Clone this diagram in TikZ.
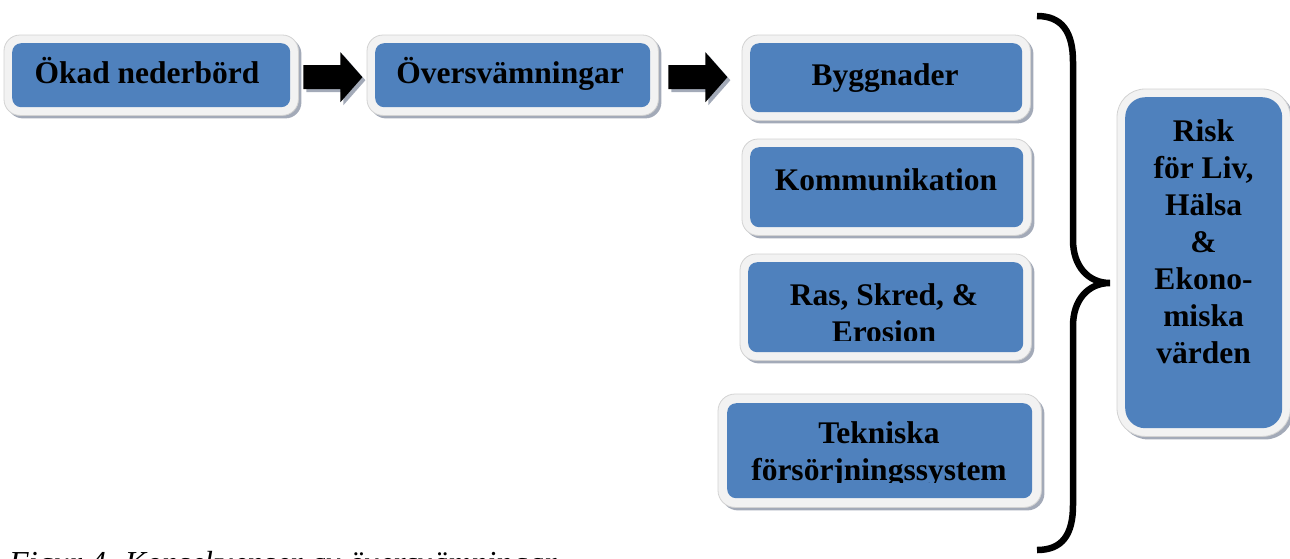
\documentclass[tikz,border=0pt]{standalone}
\usepackage{fontspec}
\setmainfont{Liberation Serif}
\usetikzlibrary{backgrounds,calc}
\definecolor{boxblue}{HTML}{4F81BD}
\definecolor{framefill}{HTML}{F2F2F2}
\definecolor{framedraw}{HTML}{D2D2D2}
\definecolor{shadowcol}{HTML}{A3AAB8}
\newcommand\myboxrim[3]{%
  \fill[shadowcol, rounded corners=#2] ([shift={(-#3+3,-#3+3)}]#1.north west) rectangle ([shift={(#3+3,#3+3)}]#1.south east);
  \filldraw[fill=framefill, draw=framedraw, line width=0.8pt, rounded corners=#2] ([shift={(-#3,-#3)}]#1.north west) rectangle ([shift={(#3,#3)}]#1.south east);
}
\tikzset{
  bbox/.style={fill=boxblue, rounded corners=9pt, inner sep=0pt, anchor=north west, draw=none},
  btext/.style={font=\bfseries\fontsize{31.5}{37}\selectfont, align=center, inner sep=0pt, anchor=base},
  captext/.style={font=\itshape\fontsize{32}{38}\selectfont, inner sep=0pt, anchor=base west},
  bracestyle/.style={line width=6.5pt, line cap=butt},
  blockarrow/.pic={
    \fill[shadowcol] (3,-9) -- (40,-9) -- (40,-22) -- (62,3) -- (40,28) -- (40,15) -- (3,15) -- cycle;
    \fill[black] (0,-12) -- (37,-12) -- (37,-25) -- (59,0) -- (37,25) -- (37,12) -- (0,12) -- cycle;
  }
}
\begin{document}
\begin{tikzpicture}[x=1pt, y=-1pt]
\useasboundingbox (0,0) rectangle (1290,558);
\clip (0,0) rectangle (1290,558);
% blue boxes
\node[bbox, minimum width=278pt, minimum height=64pt] (b1) at (12,43) {};
\node[bbox, minimum width=275pt, minimum height=64pt] (b2) at (375,43) {};
\node[bbox, minimum width=272pt, minimum height=69pt] (b3) at (750,43) {};
\node[bbox, minimum width=273pt, minimum height=80pt] (b4) at (750,147) {};
\node[bbox, minimum width=275pt, minimum height=90pt] (b5) at (748,262) {};
\node[bbox, minimum width=305pt, minimum height=95pt] (b6) at (727,403) {};
\node[bbox, rounded corners=20pt, minimum width=157pt, minimum height=331pt] (b7) at (1125,97) {};
\begin{scope}[on background layer]
  \myboxrim{b1}{16pt}{8}
  \myboxrim{b2}{16pt}{8}
  \myboxrim{b3}{16pt}{8}
  \myboxrim{b4}{16pt}{8}
  \myboxrim{b5}{16pt}{8}
  \myboxrim{b6}{17pt}{9}
  \myboxrim{b7}{28pt}{8}
\end{scope}
% texts
\node[btext] (t1) at (147,83) {Ökad nederbörd};
\node[btext] (t2) at (510,83) {Översvämningar};
\node[btext] (t3) at (885,85) {Byggnader};
\node[btext] (t4) at (886,190) {Kommunikation};
\begin{scope}
  \clip (740,255) rectangle (1035,340);
  \node[btext] (t5) at (884,342) {Ras, Skred, \&\\Erosion};
\end{scope}
\begin{scope}
  \clip (715,395) rectangle (1045,482);
  \node[btext] (t6) at (879,480) {Tekniska\\försörjningssystem};
\end{scope}
\node[btext] (t7) at (1203.5,363.5) {Risk\\för Liv,\\Hälsa\\\&\\Ekono-\\miska\\värden};
% block arrows
\pic (a1) at ($(b1.east)+(13,2)$) {blockarrow};
\pic (a2) at ($(b2.east)+(18,2)$) {blockarrow};
% brace
\draw[bracestyle] (1037,16) .. controls (1062,16) and (1073,32) .. (1073,62) -- (1073,240)
  .. controls (1073,266) and (1088,283) .. (1110,283)
  .. controls (1088,283) and (1073,300) .. (1073,326) -- (1073,505)
  .. controls (1073,535) and (1062,550) .. (1037,550);
% caption
\node[captext] (cap) at (9,573) {Figur 4. Konsekvenser av översvämningar};
\end{tikzpicture}
\end{document}
